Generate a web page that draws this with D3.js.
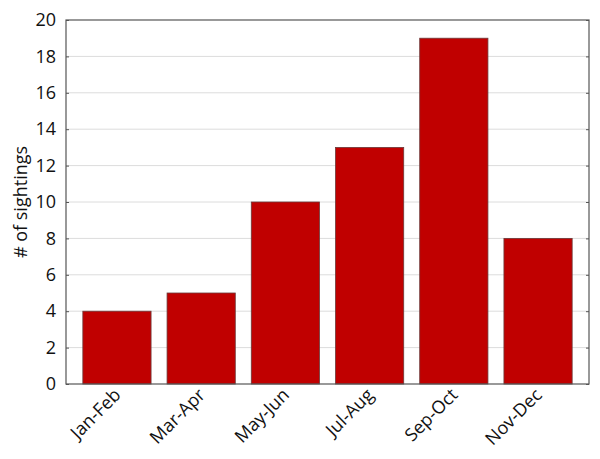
<!DOCTYPE html>
<html>
<head>
<meta charset="utf-8">
<script src="https://cdn.jsdelivr.net/npm/d3@7"></script>
<style>
  body { margin: 0; background: #fff; }
  text { font-family: "Open Sans", "Noto Sans", sans-serif; fill: #111; }
</style>
</head>
<body>
<svg width="600" height="459"></svg>
<script>
var categories = ["Jan-Feb", "Mar-Apr", "May-Jun", "Jul-Aug", "Sep-Oct", "Nov-Dec"];
var sightings = [4, 5, 10, 13, 19, 8];
var yTicks = [0, 2, 4, 6, 8, 10, 12, 14, 16, 18, 20];

var margin = { top: 20, right: 11, bottom: 75, left: 66 };
var width = 600 - margin.left - margin.right;
var height = 459 - margin.top - margin.bottom;

var svg = d3.select("svg");
var g = svg.append("g")
    .attr("transform", "translate(" + margin.left + "," + margin.top + ")");

var x = d3.scaleBand()
    .domain(categories)
    .range([0, width])
    .paddingInner(0.19)
    .paddingOuter(0.2);
var y = d3.scaleLinear().domain([0, 20]).range([height, 0]);

// gridlines
g.selectAll(".grid")
    .data(yTicks.slice(1, -1))
    .enter().append("line")
    .attr("x1", 0).attr("x2", width)
    .attr("y1", function (d) { return y(d); })
    .attr("y2", function (d) { return y(d); })
    .attr("stroke", "#dcdcdc")
    .attr("stroke-width", 1);

// bars
g.selectAll(".bar")
    .data(sightings)
    .enter().append("rect")
    .attr("x", function (d, i) { return x(categories[i]); })
    .attr("y", function (d) { return y(d); })
    .attr("width", x.bandwidth())
    .attr("height", function (d) { return height - y(d); })
    .attr("fill", "#c00000")
    .attr("stroke", "#6b3a3a")
    .attr("stroke-width", 0.8);

// left axis, ticks inside
var yAxis = g.append("g")
    .call(d3.axisLeft(y).tickValues(yTicks).tickSizeInner(-3).tickSizeOuter(0).tickPadding(10));
yAxis.select(".domain").remove();
yAxis.selectAll("line").attr("stroke", "#555");
yAxis.selectAll("text").style("font-size", "18px").attr("fill", "#111");

// right side ticks
var yRight = g.append("g")
    .attr("transform", "translate(" + width + ",0)")
    .call(d3.axisRight(y).tickValues(yTicks).tickSizeInner(-3).tickSizeOuter(0).tickFormat(""));
yRight.select(".domain").remove();
yRight.selectAll("line").attr("stroke", "#555");

// bottom axis
var xAxis = g.append("g")
    .attr("transform", "translate(0," + height + ")")
    .call(d3.axisBottom(x).tickSize(0).tickPadding(8));
xAxis.select(".domain").remove();
xAxis.selectAll("text")
    .style("font-size", "18px")
    .attr("fill", "#111")
    .style("text-anchor", "end")
    .attr("dx", "-5")
    .attr("dy", "4")
    .attr("transform", "rotate(-45)");

// frame
g.append("rect")
    .attr("width", width)
    .attr("height", height)
    .attr("fill", "none")
    .attr("stroke", "#555")
    .attr("stroke-width", 1.2);

// y title
svg.append("text")
    .attr("transform", "translate(27," + (margin.top + height / 2) + ") rotate(-90)")
    .attr("text-anchor", "middle")
    .style("font-size", "18px")
    .text("# of sightings");
</script>
</body>
</html>
